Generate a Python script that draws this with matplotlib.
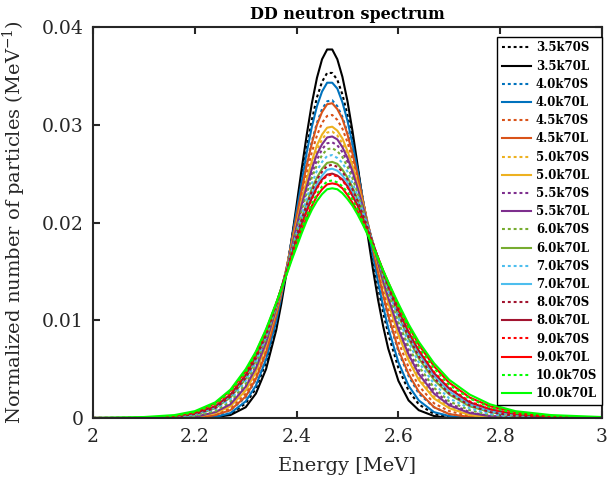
import numpy as np
from matplotlib import pyplot as plt

plt.rcParams['font.family'] = 'DejaVu Serif'
plt.rcParams['mathtext.fontset'] = 'dejavuserif'

# energy bins [MeV]
energy = np.array([2.00, 2.10, 2.16, 2.20, 2.24, 2.27, 2.30, 2.32, 2.34,
                   2.36, 2.37, 2.38, 2.39, 2.40, 2.41, 2.42, 2.43, 2.44, 2.45, 2.46, 2.47,
                   2.48, 2.49, 2.50, 2.51, 2.52, 2.53, 2.54, 2.55, 2.56, 2.57, 2.58,
                   2.60, 2.62, 2.64, 2.67, 2.70, 2.74, 2.78, 2.83, 2.90, 3.00])

# normalized spectra, in units of 1e-4 MeV^-1
s35 = [0, 0, 0, 0, 1, 4, 15, 30, 57, 97, 122, 150, 181, 214, 246, 277, 305, 328, 344, 353, 353,
       346, 331, 310, 284, 255, 224, 193, 162, 134, 108, 86, 51, 28, 14, 4, 1, 0, 0, 0, 0, 0]
l35 = [0, 0, 0, 0, 1, 3, 11, 25, 50, 90, 117, 148, 182, 218, 255, 290, 322, 348, 367, 377, 377,
       367, 349, 324, 293, 258, 222, 186, 152, 121, 94, 71, 38, 18, 8, 2, 0, 0, 0, 0, 0, 0]
s40 = [0, 0, 0, 0, 2, 8, 21, 39, 66, 104, 127, 152, 179, 207, 234, 260, 283, 302, 316, 324, 325,
       319, 308, 292, 272, 248, 223, 198, 172, 147, 124, 103, 68, 43, 25, 11, 4, 1, 0, 0, 0, 0]
l40 = [0, 0, 0, 0, 1, 5, 17, 33, 60, 99, 124, 151, 181, 212, 242, 272, 298, 319, 334, 343, 343,
       337, 323, 304, 280, 253, 224, 195, 166, 139, 114, 92, 57, 33, 18, 6, 2, 0, 0, 0, 0, 0]
s45 = [0, 0, 0, 1, 3, 10, 25, 43, 70, 107, 129, 153, 178, 203, 228, 251, 272, 289, 302, 309, 310,
       305, 296, 282, 264, 244, 222, 199, 175, 153, 132, 112, 78, 52, 33, 15, 7, 2, 1, 0, 0, 0]
l45 = [0, 0, 0, 0, 3, 8, 22, 40, 67, 105, 127, 152, 179, 206, 233, 259, 281, 300, 313, 321, 322,
       316, 306, 290, 270, 248, 223, 198, 173, 149, 126, 105, 70, 45, 27, 11, 4, 1, 0, 0, 0, 0]
s50 = [0, 0, 0, 1, 5, 13, 30, 49, 76, 111, 131, 153, 175, 198, 220, 241, 259, 274, 285, 292, 293,
       289, 281, 270, 255, 237, 218, 198, 178, 158, 139, 120, 88, 62, 42, 22, 11, 4, 1, 0, 0, 0]
l50 = [0, 0, 0, 1, 5, 12, 28, 47, 74, 110, 130, 153, 176, 199, 222, 244, 263, 279, 290, 297, 298,
       294, 286, 273, 258, 239, 220, 199, 177, 157, 137, 118, 85, 59, 39, 20, 10, 3, 1, 0, 0, 0]
s55 = [0, 0, 0, 2, 6, 15, 33, 53, 79, 113, 132, 152, 173, 194, 215, 234, 250, 264, 275, 281, 282,
       279, 272, 262, 248, 233, 216, 197, 179, 160, 143, 125, 95, 69, 49, 28, 15, 6, 2, 1, 0, 0]
l55 = [0, 0, 0, 1, 6, 14, 32, 51, 77, 112, 131, 152, 174, 196, 218, 237, 255, 270, 280, 287, 288,
       285, 277, 266, 252, 235, 217, 198, 179, 159, 140, 123, 91, 65, 45, 25, 13, 5, 2, 0, 0, 0]
s60 = [0, 0, 1, 2, 7, 17, 35, 55, 81, 114, 132, 152, 172, 192, 212, 230, 246, 259, 269, 275, 276,
       273, 267, 257, 245, 230, 214, 197, 179, 162, 144, 128, 98, 73, 53, 31, 17, 8, 3, 1, 0, 0]
l60 = [0, 0, 1, 3, 10, 21, 40, 59, 85, 115, 133, 150, 169, 187, 204, 220, 235, 246, 255, 261, 262,
       260, 254, 246, 236, 223, 209, 194, 179, 163, 148, 133, 105, 81, 61, 39, 24, 12, 6, 2, 1, 0]
s70 = [0, 0, 1, 3, 9, 19, 38, 57, 83, 115, 132, 151, 170, 189, 208, 225, 240, 253, 262, 268, 269,
       266, 261, 252, 240, 227, 212, 196, 179, 163, 146, 131, 102, 77, 57, 35, 20, 10, 4, 1, 0, 0]
l70 = [0, 0, 1, 4, 11, 23, 43, 62, 87, 116, 133, 150, 167, 184, 200, 216, 229, 240, 248, 254, 255,
       253, 248, 241, 231, 219, 206, 193, 178, 164, 149, 135, 109, 85, 66, 43, 27, 14, 7, 3, 1, 0]
s80 = [0, 0, 1, 4, 10, 22, 41, 61, 85, 116, 133, 150, 168, 186, 203, 218, 232, 244, 252, 258, 259,
       257, 252, 244, 234, 222, 208, 194, 179, 163, 148, 134, 107, 83, 63, 41, 25, 13, 6, 2, 1, 0]
l80 = [0, 0, 2, 5, 12, 24, 44, 64, 88, 117, 133, 149, 166, 182, 198, 212, 225, 236, 244, 249, 250,
       248, 244, 237, 227, 217, 204, 191, 178, 164, 150, 136, 111, 88, 69, 46, 30, 16, 9, 4, 1, 0]
s90 = [0, 0, 2, 5, 13, 25, 45, 64, 88, 117, 132, 149, 165, 181, 197, 212, 224, 235, 243, 248, 249,
       247, 243, 236, 227, 216, 204, 191, 178, 164, 150, 137, 111, 89, 70, 47, 31, 17, 9, 4, 1, 0]
l90 = [0, 0, 2, 6, 15, 28, 48, 67, 90, 117, 132, 147, 163, 178, 192, 205, 217, 227, 234, 239, 240,
       239, 235, 228, 220, 211, 200, 188, 176, 164, 151, 139, 115, 94, 75, 53, 36, 21, 12, 6, 2, 0]
s100 = [0, 0, 2, 6, 14, 27, 47, 66, 89, 117, 132, 148, 163, 179, 194, 207, 219, 229, 237, 242, 243,
        241, 237, 231, 223, 213, 201, 189, 177, 164, 151, 138, 114, 92, 73, 51, 34, 20, 11, 5, 2, 0]
l100 = [0, 1, 3, 7, 16, 29, 50, 68, 91, 118, 132, 146, 161, 175, 189, 202, 213, 222, 229, 234, 235,
        234, 230, 224, 217, 208, 198, 187, 175, 163, 151, 139, 117, 96, 78, 56, 39, 24, 14, 7, 3, 1]

temps = ['3.5', '4.0', '4.5', '5.0', '5.5', '6.0', '7.0', '8.0', '9.0', '10.0']
short_runs = [s35, s40, s45, s50, s55, s60, s70, s80, s90, s100]
long_runs = [l35, l40, l45, l50, l55, l60, l70, l80, l90, l100]

# MATLAB-like colour order, one colour per temperature
colors = ['k', (0, 0.447, 0.741), (0.850, 0.325, 0.098), (0.929, 0.694, 0.125),
          (0.494, 0.184, 0.556), (0.466, 0.674, 0.188), (0.301, 0.745, 0.933),
          (0.635, 0.078, 0.184), (1, 0, 0), (0, 1, 0)]

fig = plt.figure(figsize=(6.13, 4.79), dpi=100)
ax = fig.add_axes([93 / 613, 61 / 479, 509 / 613, 391 / 479])

for T, s, l, c in zip(temps, short_runs, long_runs, colors):
    ax.plot(energy, np.array(s) * 1e-4, color=c, ls=(0, (1.4, 1.4)), lw=1.5, label=T + 'k70S')
    ax.plot(energy, np.array(l) * 1e-4, color=c, ls='-', lw=1.5, label=T + 'k70L')

ax.set_xlim(2, 3)
ax.set_ylim(0, 0.04)
ax.set_xticks([2, 2.2, 2.4, 2.6, 2.8, 3])
ax.set_xticklabels(['2', '2.2', '2.4', '2.6', '2.8', '3'])
ax.set_yticks([0, 0.01, 0.02, 0.03, 0.04])
ax.set_yticklabels(['0', '0.01', '0.02', '0.03', '0.04'])
ax.tick_params(direction='in', top=True, right=True, labelsize=13.5, colors='#262626',
               width=1.5, length=5, pad=7)
for sp in ax.spines.values():
    sp.set_linewidth(1.5)
    sp.set_color('#262626')
ax.set_xlabel('Energy [MeV]', fontsize=14, color='#262626', labelpad=8)
ax.set_ylabel('Normalized number of particles (MeV$^{-1}$)', fontsize=14, color='#262626', labelpad=10)
ax.set_title('DD neutron spectrum', fontsize=11.5, fontweight='bold')
ax.legend(loc='upper right', bbox_to_anchor=(1.0, 0.975), prop={'weight': 'bold', 'size': 8.5},
          handlelength=2.5, handletextpad=0.4, labelspacing=0.44, fancybox=False, edgecolor='k',
          framealpha=1, borderaxespad=0)

fig.savefig('out.png', dpi=100)
